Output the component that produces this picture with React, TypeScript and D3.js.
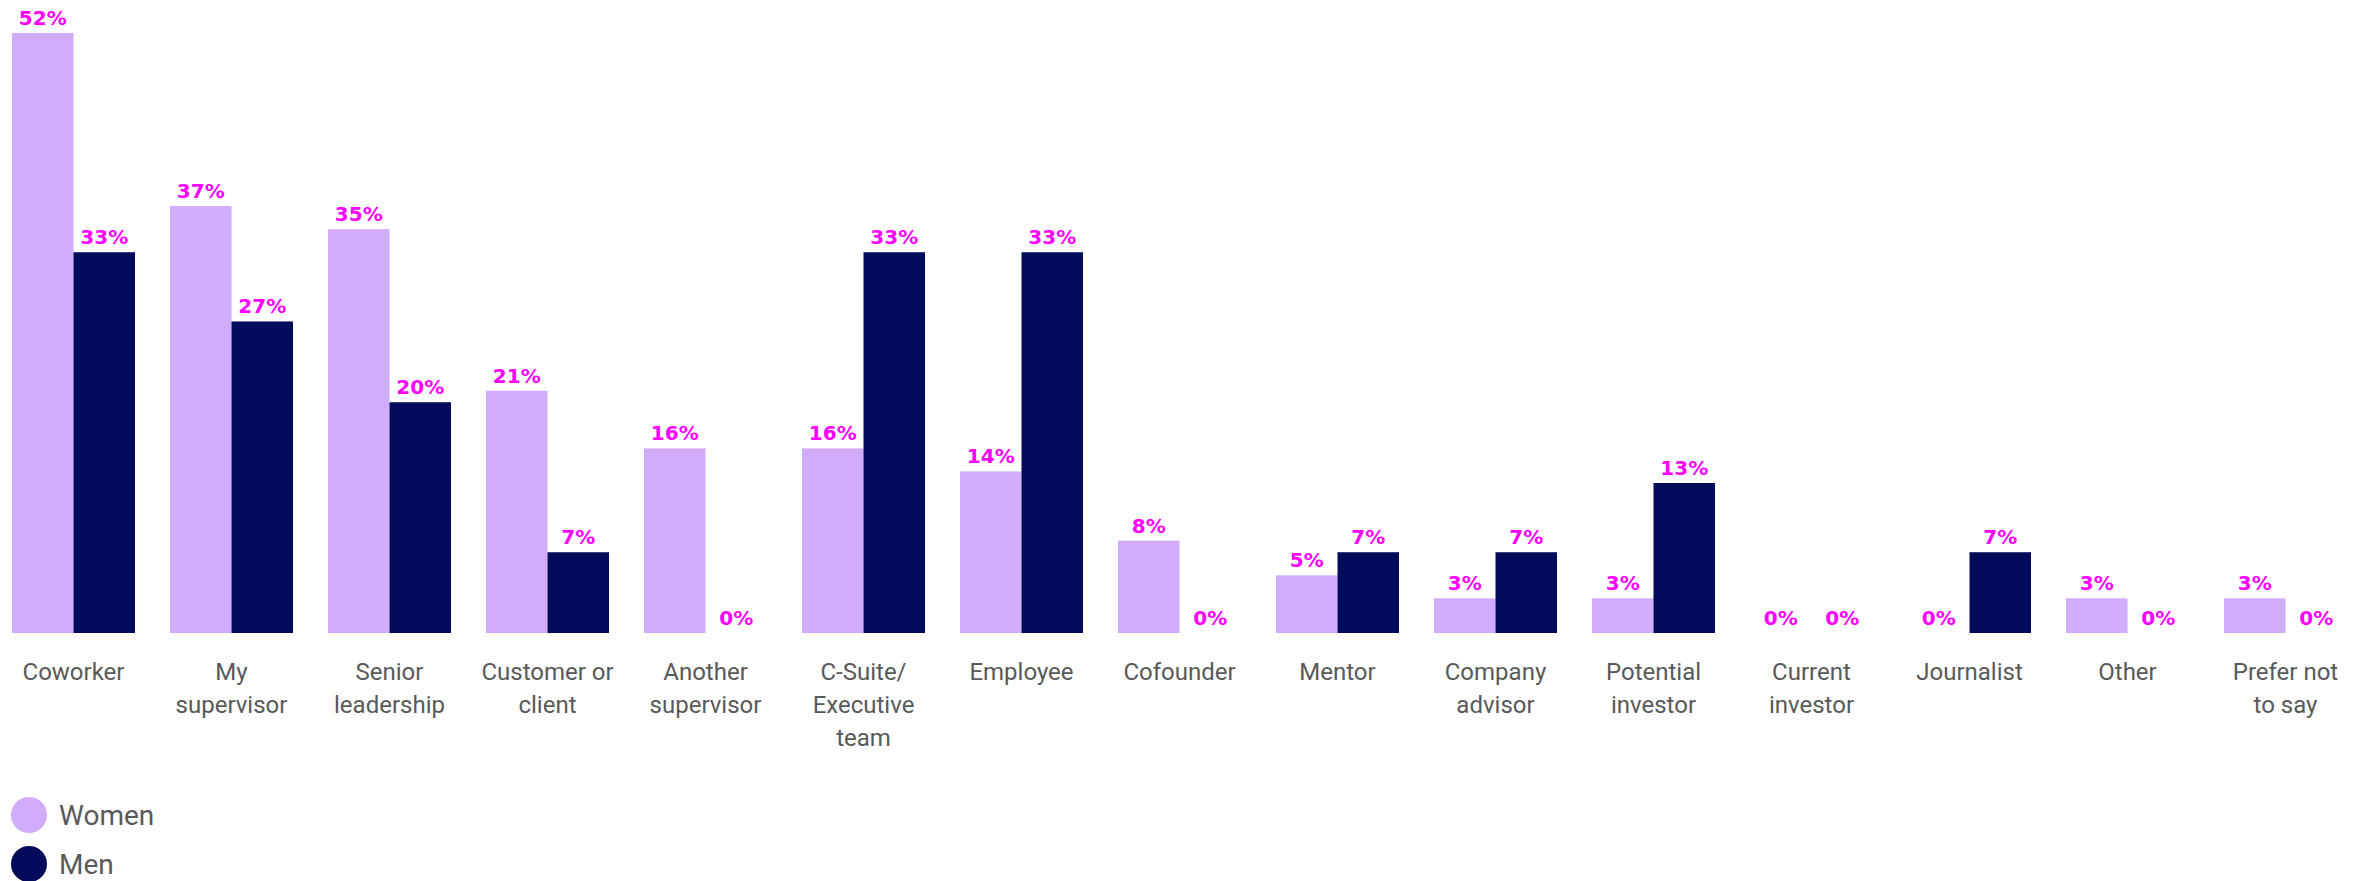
import React, { useEffect, useRef } from 'react'
import * as d3 from 'd3'

// categories (label lines) and series values in %
const categories = [
    ['Coworker'],
    ['My', 'supervisor'],
    ['Senior', 'leadership'],
    ['Customer or', 'client'],
    ['Another', 'supervisor'],
    ['C-Suite/', 'Executive', 'team'],
    ['Employee'],
    ['Cofounder'],
    ['Mentor'],
    ['Company', 'advisor'],
    ['Potential', 'investor'],
    ['Current', 'investor'],
    ['Journalist'],
    ['Other'],
    ['Prefer not', 'to say'],
]
const women = [52, 37, 35, 21, 16, 16, 14, 8, 5, 3, 3, 0, 0, 3, 3]
const men = [33, 27, 20, 7, 0, 33, 33, 0, 7, 7, 13, 0, 7, 0, 0]
const seriesNames = ['Women', 'Men']
const colors = ['#d0acfb', '#020a5a']

const W = 2366
const H = 881

const App = () => {
    const ref = useRef<SVGSVGElement>(null)

    useEffect(() => {
        const svg = d3.select(ref.current)
        svg.selectAll('*').remove()

        const keys = categories.map(c => c.join(' '))
        const baseline = 633

        const x = d3.scaleBand().domain(keys).range([12, 2347]).paddingInner(0.2215).paddingOuter(0)
        const x1 = d3.scaleBand().domain(seriesNames).range([0, x.bandwidth()])
        const y = d3.scaleLinear().domain([0, 52]).range([baseline, 33])

        const rows = keys.map((k, i) => ({ key: k, lines: categories[i], values: [women[i], men[i]] }))

        const g = svg.selectAll('g.grp').data(rows).join('g')
            .attr('class', 'grp')
            .attr('transform', d => `translate(${x(d.key)},0)`)

        g.selectAll('rect').data(d => d.values.map((v, j) => ({ v, s: seriesNames[j], c: colors[j] })))
            .join('rect')
            .attr('x', d => x1(d.s) ?? 0)
            .attr('y', d => y(d.v))
            .attr('width', x1.bandwidth())
            .attr('height', d => baseline - y(d.v))
            .attr('fill', d => d.c)

        g.selectAll('text.val').data(d => d.values.map((v, j) => ({ v, s: seriesNames[j] })))
            .join('text')
            .attr('class', 'val')
            .attr('x', d => (x1(d.s) ?? 0) + x1.bandwidth() / 2)
            .attr('y', d => y(d.v) - 8)
            .attr('text-anchor', 'middle')
            .style('font-family', '"DejaVu Sans", sans-serif')
            .style('font-weight', 'bold')
            .style('font-size', '20px')
            .attr('fill', '#ff00ff')
            .text(d => d.v + '%')

        // category labels
        g.append('text')
            .attr('text-anchor', 'middle')
            .style('font-family', 'Roboto, sans-serif')
            .style('font-size', '24px')
            .attr('fill', '#595959')
            .selectAll('tspan').data(d => d.lines).join('tspan')
            .attr('x', x.bandwidth() / 2)
            .attr('y', (d, i) => 680 + i * 33)
            .text(d => d)

        // legend
        const lg = svg.selectAll('g.leg').data(seriesNames).join('g')
            .attr('class', 'leg')
            .attr('transform', (d, i) => `translate(29,${815 + i * 49})`)
        lg.append('circle').attr('r', 18).attr('fill', (d, i) => colors[i])
        lg.append('text')
            .attr('x', 30)
            .attr('y', 10)
            .style('font-family', 'Roboto, sans-serif')
            .style('font-size', '28px')
            .attr('fill', '#595959')
            .text(d => d)
    }, [])

    return (
        <svg ref={ref} width={W} height={H}
            style={{ position: 'absolute', left: 0, top: 0, background: '#ffffff' }} />
    )
}

export default App
